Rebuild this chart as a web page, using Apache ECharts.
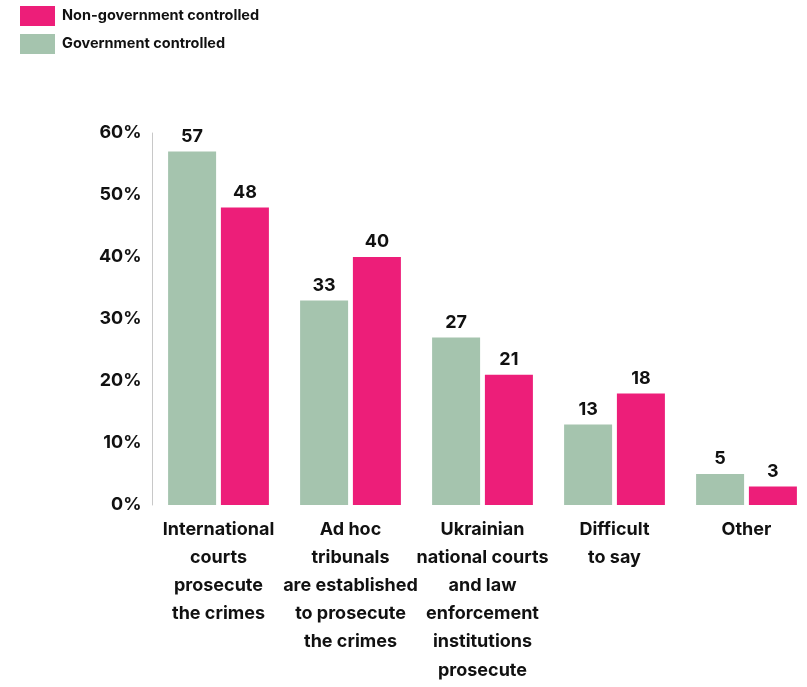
<!DOCTYPE html>
<html><head><meta charset="utf-8">
<script src="https://cdn.jsdelivr.net/npm/echarts@6/dist/echarts.min.js"></script>
<style>html,body{margin:0;padding:0;background:#fff}#c{width:807px;height:687px}</style>
</head><body><div id="c"></div>
<script>
const categories = [
  "International\ncourts\nprosecute\nthe crimes",
  "Ad hoc\ntribunals\nare established\nto prosecute\nthe crimes",
  "Ukrainian\nnational courts\nand law\nenforcement\ninstitutions\nprosecute",
  "Difficult\nto say",
  "Other"
];
const governmentControlled = [57, 33, 27, 13, 5];
const nonGovernmentControlled = [48, 40, 21, 18, 3];
const yTicks = [0, 10, 20, 30, 40, 50, 60];

const FONT = 'Inter';
const chart = echarts.init(document.getElementById('c'));
chart.setOption({
  animation: false,
  textStyle: {fontFamily: FONT},
  legend: {
    orient: 'vertical', left: 20, top: 6, padding: 0,
    itemWidth: 35, itemHeight: 20, itemGap: 8,
    icon: 'rect',
    data: ['Non-government controlled', 'Government controlled'],
    textStyle: {fontFamily: FONT, fontWeight: 'bold', fontSize: 14.5, color: '#111', padding: [0, 0, 0, 2]}
  },
  grid: {left: 152.5, width: 660, top: 133, bottom: 182, containLabel: false, outerBoundsMode: 'none'},
  xAxis: {
    type: 'category', data: categories,
    axisLine: {show: false}, axisTick: {show: false},
    axisLabel: {interval: 0, margin: 10, fontFamily: FONT, fontWeight: 'bold', fontSize: 18, lineHeight: 28.2, color: '#111'}
  },
  yAxis: {
    type: 'value', min: 0, max: 60, interval: 10,
    axisLine: {show: true, lineStyle: {color: '#c8c8c8', width: 1}},
    axisTick: {show: false}, splitLine: {show: false},
    axisLabel: {margin: 11, fontFamily: FONT, fontWeight: 'bold', fontSize: 18, color: '#111',
      formatter: v => yTicks.includes(v) ? v + '%' : ''}
  },
  series: [
    {name: 'Government controlled', type: 'bar', data: governmentControlled,
     barWidth: 48, barGap: '10%', itemStyle: {color: '#A5C4AE'},
     label: {show: true, position: 'top', distance: 6, fontFamily: FONT, fontWeight: 'bold', fontSize: 18, color: '#111'}},
    {name: 'Non-government controlled', type: 'bar', data: nonGovernmentControlled,
     barWidth: 48, barGap: '10%', itemStyle: {color: '#ED1E79'},
     label: {show: true, position: 'top', distance: 6, fontFamily: FONT, fontWeight: 'bold', fontSize: 18, color: '#111'}}
  ]
});
</script></body></html>
